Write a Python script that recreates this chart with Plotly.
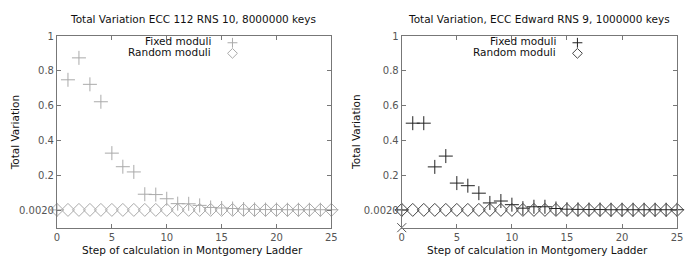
import plotly.graph_objects as go

steps = list(range(26))
left_fixed = [0.002, 0.749, 0.875, 0.723, 0.623, 0.328, 0.25, 0.22, 0.092, 0.09, 0.066,
              0.038, 0.037, 0.028, 0.016, 0.013, 0.01, 0.007, 0.005, 0.004, 0.004,
              0.003, 0.003, 0.003, 0.003, 0.003]
left_random = [0.002, 0.002, 0.002, 0.002, 0.002, 0.002, 0.002, 0.002, 0.002,
               0.002, 0.002, 0.002, 0.002, 0.002, 0.002, 0.002, 0.002, 0.002, 0.002,
               0.002, 0.002, 0.002, 0.002, 0.002, 0.002, 0.002]
right_fixed = [0.002, 0.5, 0.5, 0.249, 0.311, 0.156, 0.141, 0.098, 0.042, 0.053, 0.032,
               0.012, 0.02, 0.02, 0.01, 0.006, 0.005, 0.004, 0.004, 0.003, 0.003,
               0.003, 0.003, 0.003, 0.003, 0.003]
right_random = [0.002, 0.002, 0.002, 0.002, 0.002, 0.002, 0.002, 0.002, 0.002,
                0.002, 0.002, 0.002, 0.002, 0.002, 0.002, 0.002, 0.002, 0.002, 0.002,
                0.002, 0.002, 0.002, 0.002, 0.002, 0.002, 0.002]
right_extra_x = [0]
right_extra_y = [-0.1]

titles = ["Total Variation ECC 112 RNS 10, 8000000 keys",
          "Total Variation, ECC Edward RNS 9, 1000000 keys"]
xlabel = "Step of calculation in Montgomery Ladder"
ylabel = "Total Variation"
ytickvals = [0, 0.2, 0.4, 0.6, 0.8, 1]
yticktext = ["0.0020", "0.2", "0.4", "0.6", "0.8", "1"]
xtickvals = [0, 5, 10, 15, 20, 25]
legend_names = ["Fixed moduli", "Random moduli"]

W, H = 692, 262
FONT = "DejaVu Sans"
left_dom = [54.7 / W, 332.7 / W]
right_dom = [404 / W, 683 / W]
ydom = [1 - 227 / H, 1 - 31.7 / H]

light = "#aaaaaa"
dark_plus = "#222222"
dark_dia = "#444444"
MS = 10

fig = go.Figure()
fig.add_trace(go.Scatter(x=steps, y=left_fixed, mode="markers", xaxis="x", yaxis="y",
                         marker=dict(symbol="cross-thin", size=MS, line=dict(width=1, color=light)),
                         showlegend=False, cliponaxis=False))
fig.add_trace(go.Scatter(x=steps, y=left_random, mode="markers", xaxis="x", yaxis="y",
                         marker=dict(symbol="diamond-open", size=MS, color=light, line=dict(width=1)),
                         showlegend=False, cliponaxis=False))
fig.add_trace(go.Scatter(x=steps, y=right_fixed, mode="markers", xaxis="x2", yaxis="y2",
                         marker=dict(symbol="cross-thin", size=MS, line=dict(width=1, color=dark_plus)),
                         showlegend=False, cliponaxis=False))
fig.add_trace(go.Scatter(x=steps, y=right_random, mode="markers", xaxis="x2", yaxis="y2",
                         marker=dict(symbol="diamond-open", size=MS, color=dark_dia, line=dict(width=1)),
                         showlegend=False, cliponaxis=False))
fig.add_trace(go.Scatter(x=right_extra_x, y=right_extra_y, mode="markers", xaxis="x2", yaxis="y2",
                         marker=dict(symbol="x-thin", size=9, line=dict(width=1, color="#555555")),
                         showlegend=False, cliponaxis=False))

axis_common = dict(showline=True, linecolor="#777777", linewidth=1, mirror="ticks",
                   ticks="inside", ticklen=4, tickcolor="#777777", showgrid=False, zeroline=False,
                   tickfont=dict(family=FONT, size=10, color="#555555"))

fig.update_layout(
    width=W, height=H, margin=dict(l=0, r=0, t=0, b=0),
    plot_bgcolor="white", paper_bgcolor="white",
    xaxis=dict(domain=left_dom, range=[0, 25], tickvals=xtickvals, anchor="y", **axis_common),
    yaxis=dict(domain=ydom, range=[-0.1, 1], tickvals=ytickvals, ticktext=yticktext, anchor="x", **axis_common),
    xaxis2=dict(domain=right_dom, range=[0, 25], tickvals=xtickvals, anchor="y2", **axis_common),
    yaxis2=dict(domain=ydom, range=[-0.1, 1], tickvals=ytickvals, ticktext=yticktext, anchor="x2", **axis_common),
)

ann = []
for cx, t in [(192.5, titles[0]), (542.7, titles[1])]:
    ann.append(dict(x=cx / W, y=1 - 14.7 / H, xref="paper", yref="paper", text=t, showarrow=False,
                    xanchor="center", yanchor="middle", font=dict(family=FONT, size=10.5, color="#111111")))
for cx in [192, 542]:
    ann.append(dict(x=cx / W, y=1 - 250 / H, xref="paper", yref="paper", text=xlabel, showarrow=False,
                    xanchor="center", yanchor="middle", font=dict(family=FONT, size=10.5, color="#111111")))
for cx in [12, 357]:
    ann.append(dict(x=cx / W, y=1 - 130 / H, xref="paper", yref="paper", text=ylabel, showarrow=False,
                    textangle=-90, xanchor="center", yanchor="middle",
                    font=dict(family=FONT, size=10.5, color="#111111")))
# legends
shapes = []
for tx, mx, col_p, col_d in [(213, 232.5, light, light), (562, 582, dark_plus, dark_dia)]:
    for name, ty in zip(legend_names, [37, 47.5]):
        ann.append(dict(x=tx / W, y=1 - ty / H, xref="paper", yref="paper", text=name, showarrow=False,
                        xanchor="right", yanchor="middle", font=dict(family=FONT, size=10.5, color="#111111")))
    py = 38.5
    shapes.append(dict(type="path", xref="paper", yref="paper",
                       path=f"M{(mx-5)/W},{1-py/H} L{(mx+5)/W},{1-py/H} M{mx/W},{1-(py-5)/H} L{mx/W},{1-(py+5)/H}",
                       line=dict(color=col_p, width=1)))
    dy = 49.3
    shapes.append(dict(type="path", xref="paper", yref="paper",
                       path=f"M{(mx-5)/W},{1-dy/H} L{mx/W},{1-(dy-5)/H} L{(mx+5)/W},{1-dy/H} L{mx/W},{1-(dy+5)/H} Z",
                       line=dict(color=col_d, width=1)))
fig.update_layout(annotations=ann, shapes=shapes)

fig.write_html("out.html")
